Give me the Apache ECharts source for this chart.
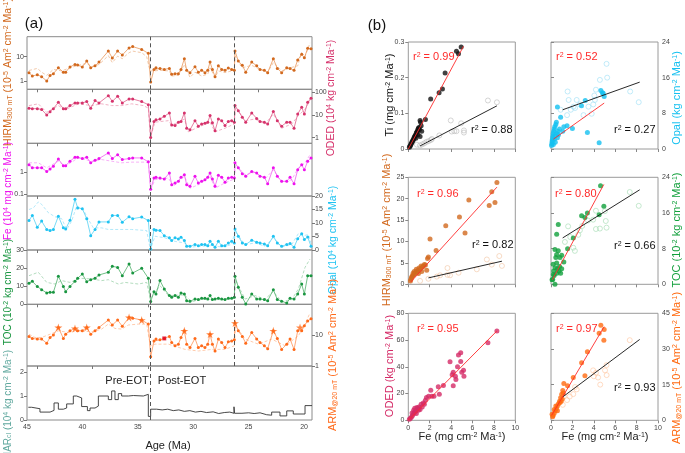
<!DOCTYPE html>
<html><head><meta charset="utf-8">
<script src="https://cdn.jsdelivr.net/npm/echarts@6/dist/echarts.min.js"></script>
<style>html,body{margin:0;padding:0;background:#fff}#c{width:685px;height:453px}</style>
</head><body><div id="c"></div>
<script>
// ---------- DATA (a) time series ----------
const ages = [44.82,44.52,44.07,43.68,43.22,42.92,42.62,42.17,41.72,41.51,41.12,40.67,40.43,40.01,39.61,39.25,38.86,38.5,37.66,37.3,36.82,36.4,35.79,35.46,34.65,34.05,33.84,33.54,33.36,33.0,32.61,32.15,31.94,31.64,31.34,31.1,30.8,30.59,30.29,29.84,29.54,29.24,28.94,28.69,28.48,28.27,28.03,27.73,27.43,27.13,26.83,26.53,26.29,26.23,25.93,25.57,25.26,24.72,24.27,23.97,23.58,23.28,22.77,22.41,22.02,21.56,21.26,20.9,20.57,20.21,19.97,19.67,19.37];
const hirm = [2.2,1.6,1.8,1.5,1.0,1.7,2.0,3.5,2.3,2.3,3.8,4.8,4.5,3.8,6.6,3.5,4.2,6.0,17,8.8,17,11.7,23,26,20,13.7,0.9,3.0,3.5,3.3,3.0,3.3,1.9,2.0,2.0,3.0,8.3,2.75,2.2,3.9,2.3,2.75,2.2,2.75,6.0,3.0,1.5,4.2,3.0,2.75,3.4,3.0,2.8,17,6.6,4.4,2.3,6.0,4.2,3.0,2.75,2.2,8.3,3.3,2.2,3.5,3.3,2.75,7.3,12.5,9,22,21];
const oded = [20,19,19,17.5,10,14,19,36,19,19,26,34,34,34,39,20,43,34,71,40,67,34,51,51,39,28.5,1.0,5.2,6.2,6.7,8.7,12.3,3.6,3.4,4.8,5.2,12.3,2.6,2.2,5.6,3.2,4.0,4.3,4.8,9.4,4.5,2.0,6.6,5.6,3.4,5.2,5.6,4.8,26,15.5,7.9,4.8,12.3,7.0,5.2,4.8,4.0,14.4,5.6,3.2,4.8,4.8,2.6,11,22,11,36,55];
const fe = [2.2,1.6,1.6,1.6,1.1,1.4,1.9,4.0,2.0,2.0,3.2,4.8,4.8,4.2,4.8,2.7,3.5,4.2,7.6,4.2,6.3,3.8,4.2,4.5,4.5,3.0,0.17,0.55,0.6,0.55,0.5,0.93,0.27,0.33,0.39,0.6,0.78,0.27,0.23,0.66,0.33,0.39,0.46,0.6,0.93,0.5,0.23,0.73,0.6,0.35,0.55,0.6,0.55,2.7,1.6,0.87,0.66,1.1,0.93,0.66,0.6,0.3,1.6,0.66,0.39,0.39,0.6,0.3,1.3,2.2,1.3,3.2,4.5];
const opal = [10.9,12.8,8.4,10.7,7.6,7.2,7.6,12.5,8.2,7.8,11.0,18.8,15.6,15.3,11.6,5.3,7.6,10.4,10.4,12.8,12.8,10.3,12.3,11.6,12.2,10.9,0.4,7.6,7.3,7.2,5.3,4.5,3.5,4.5,4.1,4.7,3.5,1.4,1.4,2.0,1.6,2.0,2.0,1.6,3.2,2.0,1.0,3.2,1.6,1.6,2.6,3.2,2.6,7.8,5.1,2.6,2.0,3.6,2.9,2.6,2.2,1.6,5.1,2.6,1.4,2.0,2.4,1.0,4.2,6.0,3.9,4.8,1.4];
const toc = [11.6,12.7,9.8,8.1,6.3,6.6,6.6,15.5,9.8,7.0,9.9,12.7,14.4,16.7,12.5,13.6,14.4,16.2,17.7,21,20.4,15.8,22.3,17.3,19.9,14.4,1.5,7.0,5.7,13.1,8.5,4.8,3.9,4.8,3.9,6.3,5.7,2.0,1.7,2.9,2.6,3.3,3.3,2.9,4.8,2.6,2.9,3.3,2.9,2.6,3.3,3.3,3.9,15.5,9.4,3.9,0.2,5.7,2.9,2.9,2.6,2.0,8.1,2.6,1.7,0.7,3.3,2.9,5.7,11.2,5.7,15.8,15.8];
const arm = [9.3,8.0,7.6,7.6,5.6,8.6,10.3,18.4,8.0,11,14.2,17,14.2,14.2,18.4,11,14.2,18.4,32,22,32,20,39,37,32,23.6,2.0,6.6,7.6,7.2,8.0,9.3,5.9,4.6,5.2,8.6,14.2,5.2,4.0,8.0,4.0,4.6,4.0,5.2,11,5.2,3.1,7.6,5.9,4.0,6.2,6.6,7.2,25.5,14.2,9.3,5.6,12.6,7.6,5.9,4.6,3.7,14.2,8.0,3.5,5.2,7.6,3.5,14.2,14.2,21,30,35];
const armStars = [[42.17,18.4],[40.67,17],[39.61,18.4],[35.79,39],[34.65,32],[30.8,14.2],[28.48,11],[26.23,25.5],[22.77,14.2],[20.36,18.4]];
const armSquare = [[32.61,8.0]];

const hirmDash = [[44.82,2.7],[44.07,3.3],[43.68,2.3],[43.22,1.7],[42.62,3.0],[41.87,2.6],[41.12,3.5],[40.37,4.4],[39.61,5.3],[39.16,3.9],[38.5,4.8],[37.66,11],[37.3,5.7],[36.82,10.5],[36.4,8.3],[35.79,14.6],[35.46,17],[34.65,14.6],[34.2,10],[33.9,2.6],[33.54,2.6],[33.0,2.75],[32.15,2.6],[31.94,1.6],[31.34,1.7],[30.8,4.8],[30.29,1.4],[29.84,2.3],[29.24,1.6],[28.69,1.9],[28.48,3.5],[28.03,1.4],[27.73,2.6],[27.13,2.2],[26.53,2.6],[26.29,2.6],[26.23,10.6],[25.57,3.5],[24.72,4.4],[23.97,3.0],[23.28,2.3],[22.77,5.7],[22.02,2.6],[21.26,3.5],[20.57,4.2],[20.21,14.6],[19.91,10],[19.46,37]];
const odedDash = [[44.82,26],[43.98,31],[43.22,13],[42.17,26],[41.57,17],[40.37,31],[39.16,26],[38.26,31],[37.36,26],[36.46,26],[35.55,31],[34.5,26],[34.05,20],[33.87,1.0],[33.45,4.8],[32.24,5.6],[31.94,3.5],[30.8,6.6],[30.44,1.8],[29.54,2.9],[28.48,4.8],[28.03,1.8],[27.13,2.6],[26.29,4],[26.17,22],[25.32,5.6],[24.42,6.6],[23.52,4],[22.77,11],[22.02,2.6],[21.11,4],[20.51,9.4],[19.91,18],[19.46,43]];
const feDash = [[44.82,2.7],[43.98,2.7],[43.22,1.6],[42.17,3.2],[41.57,1.9],[40.37,4.5],[39.16,3.2],[38.26,3.8],[37.36,3.2],[36.46,2.7],[35.55,2.9],[34.35,2.9],[34.05,2.7],[33.84,0.16],[33.45,0.46],[32.24,0.55],[31.79,0.23],[30.8,0.66],[30.29,0.19],[29.54,0.27],[28.48,0.66],[28.03,0.19],[27.13,0.33],[26.29,0.5],[26.17,2.2],[25.32,0.78],[24.42,1.0],[23.52,0.5],[22.77,1.3],[22.02,0.35],[21.11,0.46],[20.51,1.6],[19.91,2.7],[19.46,6.3]];
const opalDash = [[44.82,15],[44.43,15.6],[43.98,17.8],[43.68,16.9],[43.07,13.8],[42.47,12.3],[41.87,11.6],[41.42,7.6],[40.97,10.7],[40.52,16.3],[39.92,15],[39.46,11.3],[39.01,8.2],[38.26,8.2],[37.66,7.6],[36.76,7.6],[35.55,7.6],[34.2,7.2],[33.87,0.1],[33.45,5.1],[32.55,4.5],[31.64,3.2],[30.8,2.6],[30.14,1.1],[29.24,1.4],[28.33,1.6],[27.43,1.1],[26.53,2.0],[26.23,7.0],[25.32,2.0],[24.42,2.6],[23.52,1.4],[22.77,4.5],[22.02,1.1],[21.11,2.0],[20.51,6.1],[20.06,5.3],[19.61,5.7],[19.37,2.6]];
const tocDash = [[44.82,15.8],[43.98,17.7],[43.22,12.1],[42.47,11.2],[41.87,13.1],[41.12,12.1],[40.22,14.4],[39.16,14],[38.26,13.1],[37.66,13.6],[36.76,11.2],[36.16,12.1],[34.95,11.2],[34.2,12.1],[33.87,2.9],[33.45,6.6],[33.0,10.3],[32.24,4.8],[30.8,5.2],[30.14,1.5],[28.94,2.9],[28.03,2.6],[27.13,2.6],[26.29,3.3],[26.17,13.1],[25.32,2.9],[24.42,4.8],[23.52,2.9],[22.77,7.0],[22.02,1.5],[21.11,2.6],[20.51,8.5],[19.91,20.4],[19.46,25]];
const armDash = [[44.82,11],[44.28,8.6],[43.68,8.6],[42.92,11],[42.17,14.2],[41.27,12.6],[40.37,14.2],[39.16,13.2],[38.26,16.2],[37.66,23.6],[37.06,17],[36.46,16.2],[35.85,22],[34.95,23.6],[34.2,23.6],[33.87,4.6],[33.45,5.2],[32.24,5.2],[30.74,3.5],[29.54,3.1],[28.33,3.5],[27.13,3.5],[26.29,4.6],[26.17,21],[25.32,7.6],[24.12,5.2],[22.92,7.6],[21.71,4.6],[20.51,9.7],[19.91,23.6],[19.46,55]];

// MAR step series: [age at which step starts, value]
const marSteps = [[44.88,0.53],[44.58,0.47],[43.83,0.33],[42.92,0.40],[42.56,0.71],[42.17,0.45],[41.72,0.50],[41.42,0.67],[40.82,1.0],[40.52,0.92],[40.07,0.56],[39.55,0.39],[39.31,0.50],[38.86,0.58],[38.56,1.0],[37.66,0.85],[37.36,1.21],[37.06,0.85],[36.76,1.1],[36.46,1.0],[35.85,1.02],[35.4,1.0],[34.5,1.07],[34.05,0.15],[33.84,0.45],[33.3,0.42],[32.8,0.45],[32.3,0.39],[31.8,0.42],[31.3,0.36],[30.8,0.39],[30.3,0.33],[29.8,0.36],[29.3,0.31],[28.8,0.34],[28.2,0.27],[27.7,0.31],[27.2,0.33],[26.7,0.28],[26.32,0.55],[26.27,0.28],[25.6,0.30],[25.0,0.27],[24.5,0.30],[23.97,0.22],[23.37,0.20],[22.92,0.33],[22.17,0.17],[21.56,0.38],[20.97,0.25],[19.91,0.60],[19.28,0.60]];

const ageTicks = [44.1,39.1,34.1,29.1,24.1];
const ageLabels = [45,40,35,30,25,20];
const eotLines = [33.9, 26.3];

// ---------- DATA (b) scatter ----------
const tiFilled = [[0.1,0.005],[0.15,0.008],[0.2,0.01],[0.25,0.014],[0.3,0.016],[0.35,0.02],[0.4,0.022],[0.45,0.025],[0.5,0.028],[0.55,0.032],[0.6,0.035],[0.65,0.038],[0.7,0.04],[0.75,0.045],[0.8,0.048],[0.85,0.05],[0.9,0.055],[0.95,0.058],[1.0,0.06],[1.05,0.055],[1.1,0.08],[1.15,0.075],[1.2,0.065],[1.1,0.035],[0.9,0.04],[0.7,0.03],[1.25,0.05],[1.6,0.083],[2.09,0.14],[2.88,0.158],[3.19,0.168],[3.44,0.213],[4.5,0.274],[4.69,0.267],[4.94,0.286]];
const tiOpen = [[0.8,0.012],[1.09,0.01],[1.3,0.013],[1.5,0.016],[1.7,0.02],[1.9,0.022],[2.1,0.025],[2.2,0.028],[2.9,0.038],[3.97,0.08],[4.06,0.049],[4.3,0.05],[4.5,0.05],[4.94,0.072],[5.2,0.046],[5.2,0.052],[7.44,0.136],[8.28,0.131]];
const tiFitRed = [[0,0],[5.16,0.288]];
const tiFitBlack = [[1.09,0.0084],[8.28,0.121]];

const opalFilled = [[0.05,0.8],[0.08,1.2],[0.1,1.6],[0.12,2],[0.15,2.5],[0.18,3],[0.2,3.5],[0.22,1],[0.25,4],[0.3,4.5],[0.35,5],[0.3,2.2],[0.4,3],[0.45,5.5],[0.5,6],[0.55,3.5],[0.6,9.4],[0.65,4],[0.7,3.2],[0.8,4.5],[0.9,7.1],[1.1,4],[1.2,5],[1.5,5.2],[2.0,4.6],[2.85,9.7],[3.2,10.9],[3.4,3.7],[4.5,1.4],[4.66,13.1],[4.8,12.6],[4.88,12.5],[4.97,11.8],[0.4,1.5],[0.6,2.5]];
const opalOpen = [[0.9,8.8],[1.5,7.6],[1.55,12.9],[1.65,11],[1.85,8.8],[2.1,9.5],[2.25,9.2],[2.4,11],[2.7,10],[3.04,7.6],[3.5,9.5],[3.8,7.9],[3.95,10],[4.05,12],[4.1,11],[4.2,13.3],[4.57,15.5],[5.19,19.1],[5.25,16],[7.4,12.9],[8.2,10.5]];
const opalFitRed = [[0.22,2.2],[4.97,10.3]];
const opalFitBlack = [[1.09,8.8],[8.29,15]];

const hirmFilled = [[8.28,23.8],[7.8,21.6],[8.1,19.1],[7.56,18.4],[5.66,19.7],[4.78,15.7],[5.3,12],[3.5,13.7],[2.6,7.9],[2.03,10.6],[1.88,6.4],[1.8,6],[1.72,3.3],[1.6,4.5],[1.5,4.6],[1.4,4.2],[1.3,4],[1.2,4.3],[1.1,3.5],[1.0,3.8],[0.9,3.2],[0.8,3.0],[0.75,3.5],[0.7,2.8],[0.6,2.5],[0.55,3.0],[0.5,2.2],[0.45,2.6],[0.4,2.0],[0.35,1.8],[0.3,1.6],[0.25,1.2],[0.2,0.8],[1.25,3.0],[0.95,2.5]];
const hirmOpen = [[1.1,0.8],[1.88,1.3],[2.66,1.8],[2.97,2.1],[3.66,2.2],[3.66,3.8],[3.9,2.1],[4.7,2.7],[6.4,3.5],[7.34,5.8],[7.8,4.6],[8.5,6.6],[8.75,4.3]];
const hirmFitRed = [[0.22,0.5],[8.28,22.7]];
const hirmFitBlack = [[1.88,1.5],[8.75,5.4]];

const tocFilled = [[4.63,22.1],[4.94,17.5],[4.5,15.6],[3.4,16],[2.86,15.4],[3.17,15],[2.08,10.4],[1.55,8],[0.68,13.4],[0.53,11.2],[0.37,0],[0.37,7.8],[0.53,6.7],[0.68,7.5],[0.84,6],[1.0,6.5],[0.53,4.8],[0.37,3.7],[0.22,2.2],[0.16,1.1],[0.25,3],[0.3,2],[0.6,3.5],[0.8,4],[1.0,3.5],[0.9,2.5],[0.2,4.5],[0.45,6],[1.2,5],[0.1,1],[0.55,2.5],[0.75,3]];
const tocOpen = [[1.3,9.5],[1.6,13],[1.8,10.6],[2.08,8.2],[2.23,7.5],[2.55,11.1],[2.7,12.1],[2.92,13.1],[3.46,14.3],[3.94,14.5],[4.2,16.5],[4.2,12.4],[4.57,12.5],[5.03,16.4],[5.12,14.2],[5.19,12.7],[7.36,20.7],[8.2,17.6]];
const tocFitRed = [[0.12,1.0],[4.94,22.4]];
const tocFitBlack = [[1.09,10.4],[8.29,21.2]];

const odedFilled = [[8.28,66.8],[7.44,58],[4.9,50.5],[4.69,48.8],[4.9,44],[3.9,43.8],[4.2,36],[4.1,34],[4.4,33],[4.2,25.8],[5.16,37.5],[5.2,33],[5.0,36],[4.6,40],[4.45,30.5],[3.28,26],[2.8,25],[2.9,19.5],[2.1,22.5],[2.2,18],[2.4,18],[1.9,18],[1.7,17],[1.6,15],[1.4,13],[1.2,12],[1.0,10],[0.9,9],[0.8,9.5],[0.7,7],[0.6,6],[0.5,5],[0.4,3.5],[0.3,2.5],[0.2,1.5],[0.1,0.8],[0.6,9],[0.75,5],[1.1,8],[0.95,7.5],[1.3,10],[0.5,7.5],[0.35,5.5],[1.5,12]];
const odedFitRed = [[0,0],[8.28,66.8]];

const armFilled = [[4.66,40],[4.5,36.6],[4.97,38.2],[4.94,33.7],[3.4,28.8],[2.86,24.2],[3.17,18.7],[2.08,18],[1.55,14.5],[1.2,15.5],[1.1,12.5],[1.0,11],[0.9,9.5],[0.8,8],[0.7,7],[0.6,6],[0.5,5],[0.4,4],[0.3,3],[0.2,2],[0.15,1.5],[1.05,9],[0.85,7.5],[0.6,4],[0.45,6],[0.3,4.5],[0.1,2.5],[1.15,11.5],[0.95,8]];
const armOpen = [[1.1,6.5],[1.2,10],[1.5,8.5],[1.75,10],[2.08,11],[2.25,14],[2.4,13],[3.94,21],[4.0,18.5],[4.2,20],[4.4,18],[4.6,15],[5.05,21],[5.19,23.2],[5.2,19],[7.36,33.7]];
const armFitRed = [[0.06,2.1],[4.97,39.4]];
const armFitBlack = [[1.09,9.8],[8.29,34]];

// ---------- LAYOUT / STYLE ----------
const FONT = '"Liberation Sans", Arial, sans-serif';
const X_MIN = 19.28, X_MAX = 45;
const pTop = [36.7, 89.3, 143.3, 196, 250, 304.3, 366];
const pBot = [89.3, 143.3, 196, 250, 304.3, 366, 420];
const C = {
  hirm: {mark:'#d2691e', line:'#e8975a', dash:'#efbb94'},
  oded: {mark:'#d6336c', line:'#e0608a', dash:'#eea0b8'},
  fe:   {mark:'#ee11ee', line:'#f060f0', dash:'#f5a0f5'},
  opal: {mark:'#1fc3f2', line:'#55d0f2', dash:'#a0e2f7'},
  toc:  {mark:'#1a9641', line:'#4fb06a', dash:'#9fd3ad'},
  arm:  {mark:'#ff6a1a', line:'#ff9255', dash:'#ffbe98'},
  mar:  '#5fa89e'
};

const grids = [], xAxes = [], yAxes = [], series = [];
for (let i = 0; i < 7; i++) {
  grids.push({left:27, top:pTop[i], width:285, height:pBot[i]-pTop[i], show:true, borderColor:'#8a8a8a', borderWidth:1, backgroundColor:'rgba(0,0,0,0)'});
  xAxes.push({type:'value', gridIndex:i, min:X_MIN, max:X_MAX, inverse:true,
    axisLine:{show:false}, splitLine:{show:false},
    axisTick: i < 6 ? {show:true, customValues:ageTicks, length:3, inside:false, lineStyle:{color:'#777'}} : {show:false},
    axisLabel: i === 6 ? {show:true, customValues:ageLabels, fontSize:7, color:'#444', margin:4, fontFamily:FONT} : {show:false}});
}
function tsY(i, type, min, max, pos, labels) {
  const o = {type, gridIndex:i, min, max, position:pos,
    axisLine:{show:false}, splitLine:{show:false},
    axisTick:{show:true, customValues:labels, length:3, lineStyle:{color:'#777'}},
    axisLabel:{show:true, customValues:labels, fontSize:7, color:'#444', margin:3, fontFamily:FONT}};
  if (type === 'log') o.logBase = 10;
  return o;
}
yAxes.push(tsY(0,'log',0.455,66.5,'left',[1,10]));
yAxes.push(tsY(1,'log',0.56,136,'right',[1,10,100]));
yAxes.push(tsY(2,'log',0.0837,20.8,'left',[0.1,1]));
yAxes.push(tsY(3,'value',0,20,'right',[0,5,10,15,20]));
yAxes.push(tsY(4,'value',0,30,'left',[0,10,20,30]));
yAxes.push(tsY(5,'log',1,105,'right',[1,10]));
yAxes.push(tsY(6,'value',0,2.25,'left',[0,1,2]));

function vlines(list) {
  return {symbol:'none', silent:true, animation:false, label:{show:false},
    lineStyle:{type:[4,3], color:'#555', width:1}, data:list.map(v => ({xAxis:v}))};
}
function solid(i, vals, c) {
  return {type:'line', xAxisIndex:i, yAxisIndex:i, data:ages.map((a,k)=>[a, vals[k]]),
    symbol:'circle', symbolSize:3, showSymbol:true, z:4, silent:true,
    lineStyle:{width:0.8, color:c.line}, itemStyle:{color:c.mark}, markLine:vlines(eotLines)};
}
function dashed(i, pairs, c) {
  return {type:'line', xAxisIndex:i, yAxisIndex:i, data:pairs, symbol:'none', z:3, silent:true,
    lineStyle:{width:0.8, color:c.dash, type:[3,2]}};
}
const tsSets = [[hirm,hirmDash,C.hirm],[oded,odedDash,C.oded],[fe,feDash,C.fe],[opal,opalDash,C.opal],[toc,tocDash,C.toc],[arm,armDash,C.arm]];
tsSets.forEach((s,i) => { series.push(dashed(i, s[1], s[2])); series.push(solid(i, s[0], s[2])); });
const STAR = 'path://M50,0 L61,35 L98,35 L68,57 L79,91 L50,70 L21,91 L32,57 L2,35 L39,35 Z';
series.push({type:'scatter', xAxisIndex:5, yAxisIndex:5, data:armStars, symbol:STAR, symbolSize:8, z:5, itemStyle:{color:C.arm.mark}, silent:true});
series.push({type:'scatter', xAxisIndex:5, yAxisIndex:5, data:armSquare, symbol:'rect', symbolSize:4, z:5, itemStyle:{color:'#e00020'}, silent:true});
series.push({type:'line', xAxisIndex:6, yAxisIndex:6, data:marSteps, step:'end', symbol:'none', silent:true,
  lineStyle:{width:0.9, color:'#333'}, markLine:vlines([33.9])});

// ---------- (b) scatter grids ----------
const sc = [
  {col:0,row:0,ymax:0.3,yint:0.1,filled:tiFilled,open:tiOpen,red:tiFitRed,black:tiFitBlack,fc:'#111',oc:'#bdbdbd'},
  {col:1,row:0,ymax:24,yint:8,filled:opalFilled,open:opalOpen,red:opalFitRed,black:opalFitBlack,fc:'#14c0f0',oc:'#9fe0f5'},
  {col:0,row:1,ymax:25,yint:5,filled:hirmFilled,open:hirmOpen,red:hirmFitRed,black:hirmFitBlack,fc:'#d2691e',oc:'#f2c6a6'},
  {col:1,row:1,ymax:24,yint:8,filled:tocFilled,open:tocOpen,red:tocFitRed,black:tocFitBlack,fc:'#12a03c',oc:'#a6dcb4'},
  {col:0,row:2,ymax:80,yint:20,filled:odedFilled,open:null,red:odedFitRed,black:null,fc:'#d42a66',oc:null},
  {col:1,row:2,ymax:45,yint:15,filled:armFilled,open:armOpen,red:armFitRed,black:armFitBlack,fc:'#ff6a10',oc:'#ffc6a0'}
];
const colL = [408.3, 551], rowT = [42, 177.3, 313.3];
sc.forEach((p, j) => {
  const gi = 7 + j;
  grids.push({left:colL[p.col], top:rowT[p.row], width:107, height:107, show:true, borderColor:'#9a9a9a', borderWidth:1, backgroundColor:'rgba(0,0,0,0)'});
  xAxes.push({type:'value', gridIndex:gi, min:0, max:10, interval:2, axisLine:{show:false}, splitLine:{show:false},
    axisTick:{show:true, length:3, lineStyle:{color:'#888'}},
    axisLabel:{show:p.row===2, fontSize:7, color:'#444', margin:4, fontFamily:FONT}});
  yAxes.push({type:'value', gridIndex:gi, min:0, max:p.ymax, interval:p.yint, position:p.col===0?'left':'right',
    axisLine:{show:false}, splitLine:{show:false},
    axisTick:{show:true, length:3, lineStyle:{color:'#888'}},
    axisLabel:{show:true, fontSize:7, color:'#444', margin:4, fontFamily:FONT}});
  if (p.open) series.push({type:'scatter', xAxisIndex:gi, yAxisIndex:gi, data:p.open, symbol:'circle', symbolSize:5, silent:true,
    itemStyle:{color:'rgba(255,255,255,0)', borderColor:p.oc, borderWidth:0.8}});
  series.push({type:'scatter', xAxisIndex:gi, yAxisIndex:gi, data:p.filled, symbol:'circle', symbolSize:5, silent:true, itemStyle:{color:p.fc}});
  if (p.black) series.push({type:'line', xAxisIndex:gi, yAxisIndex:gi, data:p.black, symbol:'none', silent:true, z:5, lineStyle:{color:'#111', width:0.9}});
  series.push({type:'line', xAxisIndex:gi, yAxisIndex:gi, data:p.red, symbol:'none', silent:true, z:6, lineStyle:{color:'#ff2a2a', width:0.9}});
});

// ---------- text ----------
function rich(color, s) {
  return {sup:{fontSize:s, verticalAlign:'top', fill:color, fontFamily:FONT},
          sub:{fontSize:s, verticalAlign:'bottom', fill:color, fontFamily:FONT}};
}
function vtext(x, y, text, color, size) {
  const fs = size || 11;
  return {type:'text', x, y, rotation:Math.PI/2, silent:true,
    style:{text, fill:color, fontSize:fs, fontFamily:FONT, align:'center', verticalAlign:'middle', rich:rich(color, Math.round(fs*0.65))}};
}
function htext(x, y, text, color, size, align) {
  const fs = size || 11;
  return {type:'text', x, y, silent:true,
    style:{text, fill:color, fontSize:fs, fontFamily:FONT, align:align||'center', verticalAlign:'middle', rich:rich(color, Math.round(fs*0.65))}};
}
const U = ' (10{sup|-5} Am{sup|2} cm{sup|-2} Ma{sup|-1})';
const graphics = [
  htext(34, 24, '(a)', '#111', 15),
  htext(377, 26, '(b)', '#111', 15),
  vtext(8, 72, 'HIRM{sub|300 mT}' + U, C.hirm.mark, 10.5),
  vtext(331, 98, 'ODED (10{sup|4} kg cm{sup|-2} Ma{sup|-1})', C.oded.mark, 10.5),
  vtext(8, 191, 'Fe (10{sup|4} mg cm{sup|-2} Ma{sup|-1})', C.fe.mark, 10),
  vtext(333, 240, 'Opal (10{sup|4} kg cm{sup|-2} Ma{sup|-1})', C.opal.mark, 10.5),
  vtext(8, 292, 'TOC (10{sup|-2} kg cm{sup|-2} Ma{sup|-1})', C.toc.mark, 10),
  vtext(333, 355, 'ARM{sub|@20 mT}' + U, C.arm.mark, 11),
  vtext(8, 405, 'MAR{sub|cl} (10{sup|4} kg cm{sup|-2} Ma{sup|-1})', C.mar, 10),
  htext(168, 446, 'Age (Ma)', '#222', 11),
  htext(127, 381, 'Pre-EOT', '#222', 11),
  htext(182, 381, 'Post-EOT', '#222', 11),
  vtext(390, 95, 'Ti (mg cm{sup|-2} Ma{sup|-1})', '#111'),
  vtext(677, 98, 'Opal (kg cm{sup|-2} Ma{sup|-1})', '#14c0f0'),
  vtext(387, 230, 'HIRM{sub|300 mT}' + U, '#d2691e'),
  vtext(677, 230, 'TOC (10{sup|-2} kg cm{sup|-2} Ma{sup|-1})', '#12a03c'),
  vtext(390, 366, 'ODED (kg cm{sup|-2} Ma{sup|-1})', '#d42a66'),
  vtext(677, 368, 'ARM{sub|@20 mT}' + U, '#ff6a10'),
  htext(462, 437, 'Fe (mg cm{sup|-2} Ma{sup|-1})', '#222', 11),
  htext(605, 437, 'Fe (mg cm{sup|-2} Ma{sup|-1})', '#222', 11),
  htext(413, 57, 'r{sup|2} = 0.99', '#ff2a2a', 11, 'left'),
  htext(471, 130, 'r{sup|2} = 0.88', '#111', 11, 'left'),
  htext(556, 57, 'r{sup|2} = 0.52', '#ff2a2a', 11, 'left'),
  htext(614, 130, 'r{sup|2} = 0.27', '#111', 11, 'left'),
  htext(417, 194, 'r{sup|2} = 0.96', '#ff2a2a', 11, 'left'),
  htext(472, 245, 'r{sup|2} = 0.82', '#111', 11, 'left'),
  htext(555, 194, 'r{sup|2} = 0.80', '#ff2a2a', 11, 'left'),
  htext(614, 246, 'r{sup|2} = 0.66', '#111', 11, 'left'),
  htext(417, 329, 'r{sup|2} = 0.95', '#ff2a2a', 11, 'left'),
  htext(556, 329, 'r{sup|2} = 0.97', '#ff2a2a', 11, 'left'),
  htext(614, 388, 'r{sup|2} = 0.93', '#111', 11, 'left')
];

const chart = echarts.init(document.getElementById('c'), null, {renderer:'canvas'});
chart.setOption({
  animation:false, backgroundColor:'#fff',
  textStyle:{fontFamily:FONT},
  grid:grids, xAxis:xAxes, yAxis:yAxes, series:series, graphic:graphics
});
</script></body></html>
